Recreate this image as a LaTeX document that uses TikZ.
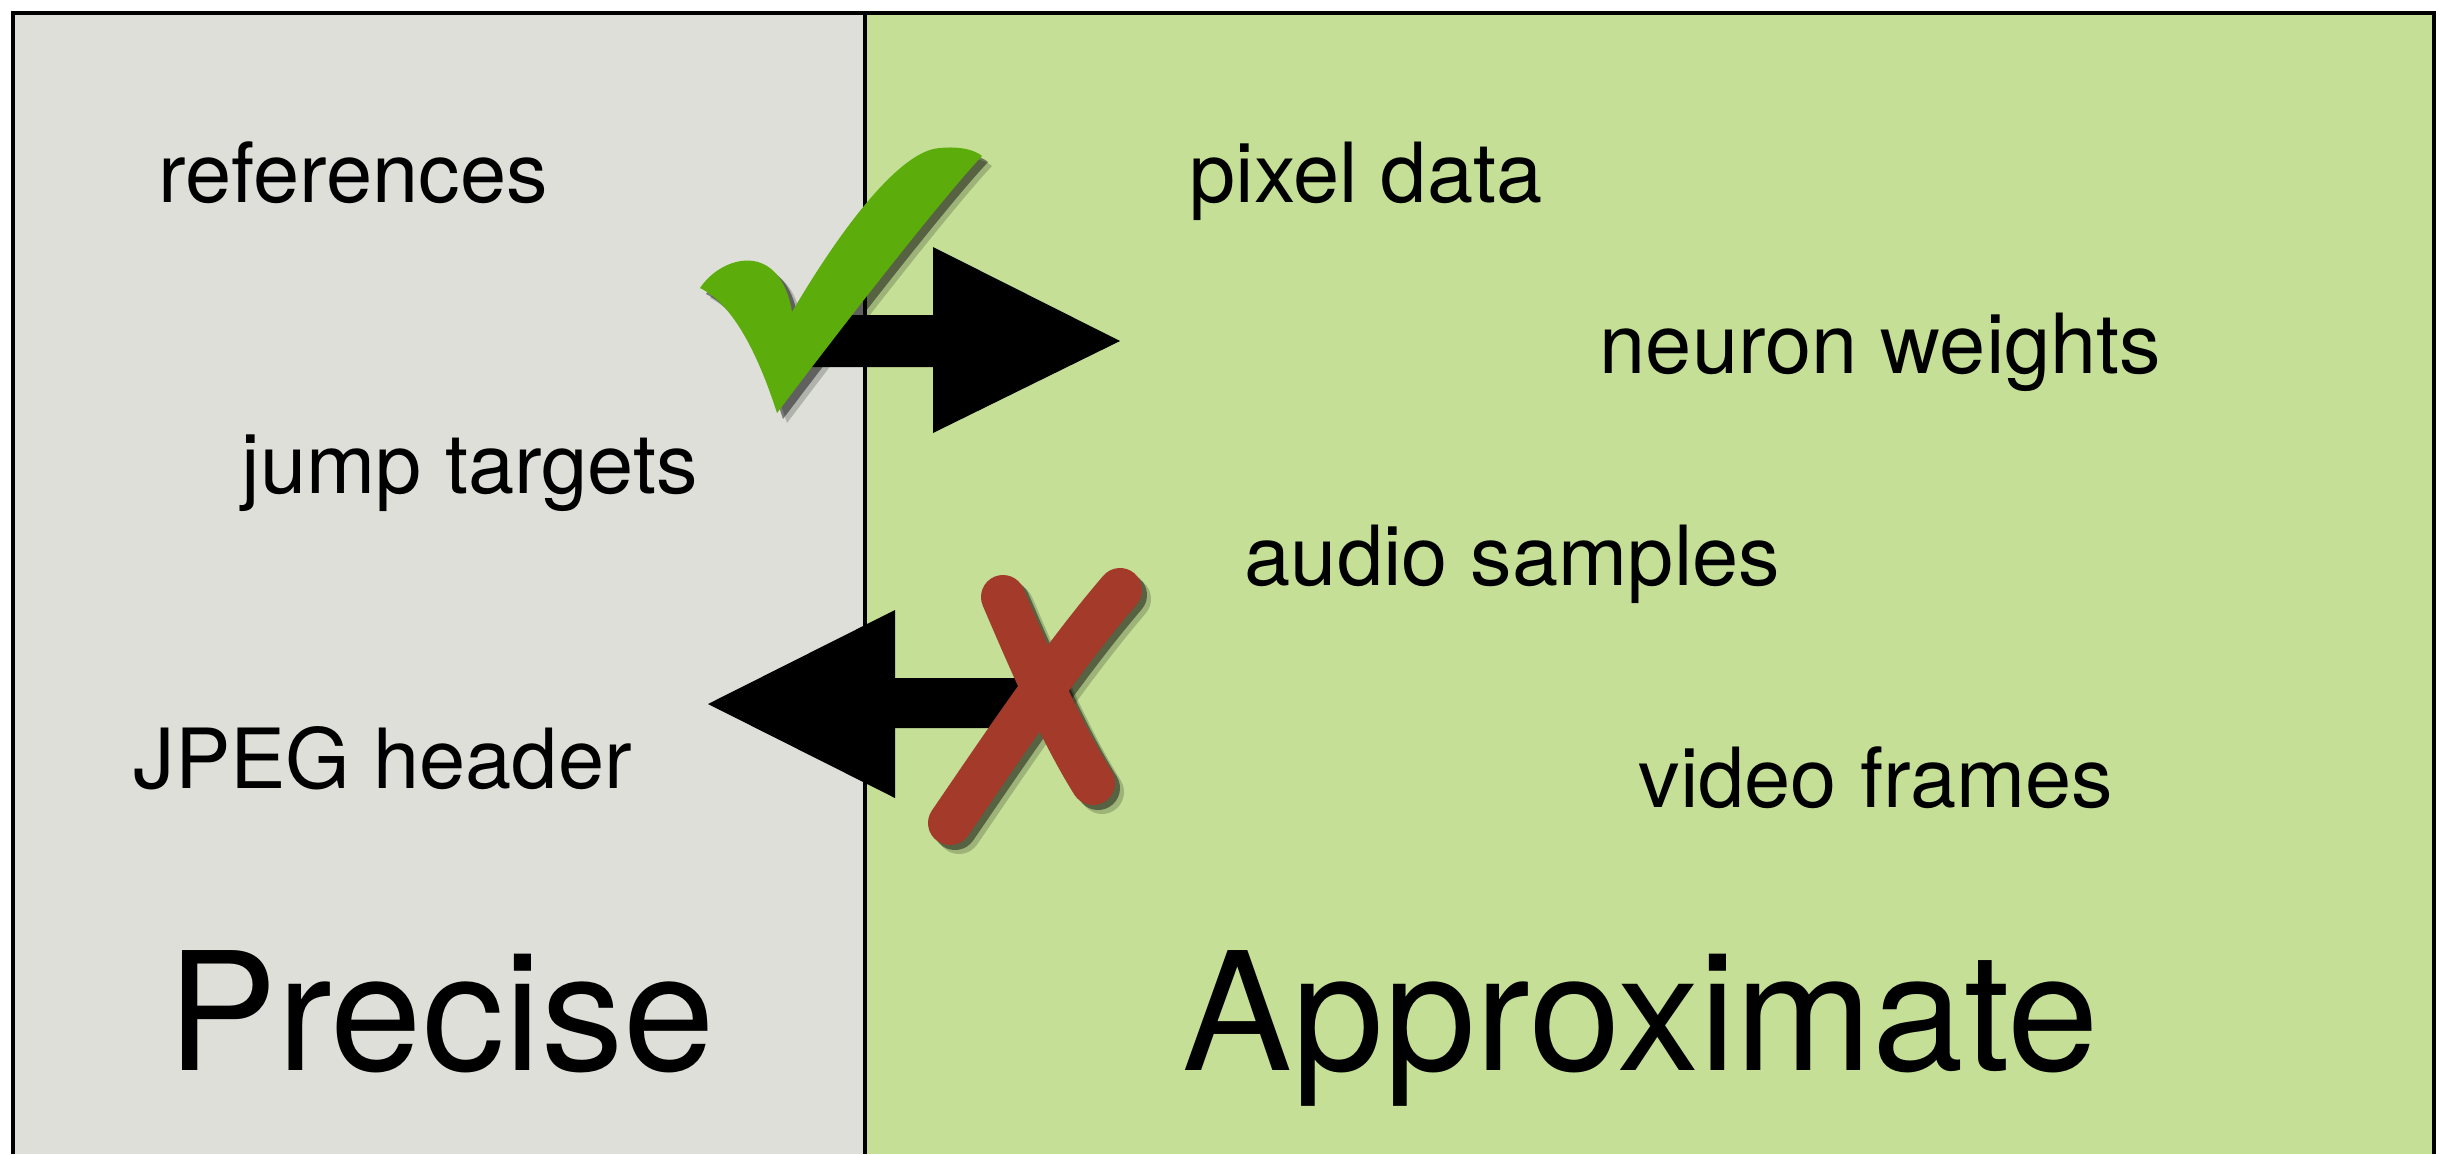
\documentclass[tikz,border=0pt]{standalone}
\usepackage{fontspec}
\setmainfont{TeX Gyre Heros}

\definecolor{precgray}{RGB}{221,223,216}
\definecolor{apxgreen}{RGB}{197,224,150}
\definecolor{okgreen}{RGB}{92,172,12}
\definecolor{badred}{RGB}{164,58,42}

\begin{document}
\begin{tikzpicture}[
  x=0.01cm,y=-0.01cm,
  item/.style={anchor=base west,inner sep=0pt,font=\fontsize{23.6}{28}\selectfont},
  side/.style={anchor=base west,inner sep=0pt,font=\fontsize{46.8}{54}\selectfont},
  frameline/.style={line width=1.1pt,black},
  xstroke/.style={line width=0.44cm,line cap=round}
]
\useasboundingbox (0,0) rectangle (2449,1154);

% ---- the two panels ----
\fill[precgray] (13,13) rectangle (865,1154);
\fill[apxgreen] (865,13) rectangle (2434,1154);
\draw[frameline] (13,1154) -- (13,13) -- (2434,13) -- (2434,1154);
\draw[frameline] (865,13) -- (865,1154);

% ---- precise side ----
\node[item] (refs) at (158,202) {references};
\node[item] (jump) at (241,493) {jump targets};
\node[item] (jpeg) at (133,788) {JPEG header};
\node[side] (prec) at (167,1070) {Precise};

% ---- approximate side ----
\node[item] (pix) at (1189,202) {pixel data};
\node[item] (neur) at (1599,373) {neuron weights};
\node[item] (audio) at (1244,585) {audio samples};
\node[item] (video) at (1638,807) {video frames};
\node[side] (apx) at (1182,1070) {Approximate};

% ---- block arrows ----
\fill (800,315) -- (933,315) -- (933,247) -- (1120,341) -- (933,433) -- (933,367) -- (800,367) -- cycle;
\fill (1030,678) -- (895,678) -- (895,610) -- (708,704) -- (895,798) -- (895,728) -- (1030,728) -- cycle;

% check mark (soft shadow, then body)
\foreach \d/\c/\o in {10/black/0.2,6/black/0.45,0/okgreen/1}
  \fill[\c,opacity=\o,shift={(\d,\d)}] (700,288) .. controls (722,255) and (780,240) .. (792,312)
    .. controls (840,230) and (900,150) .. (940,148)
    .. controls (960,146) and (975,150) .. (982,156)
    .. controls (950,190) and (870,290) .. (777,413)
    .. controls (760,360) and (735,305) .. (700,288) -- cycle;

% cross (soft shadow, then body)
\foreach \d/\c/\o in {9/black/0.2,5/black/0.45,0/badred/1} {
  \draw[xstroke,\c,opacity=\o,shift={(\d,\d)}] (1003,597) .. controls (1030,660) and (1060,730) .. (1093,783);
  \draw[xstroke,\c,opacity=\o,shift={(\d,\d)}] (1120,590) .. controls (1060,660) and (1000,750) .. (950,823);
}
\end{tikzpicture}
\end{document}
